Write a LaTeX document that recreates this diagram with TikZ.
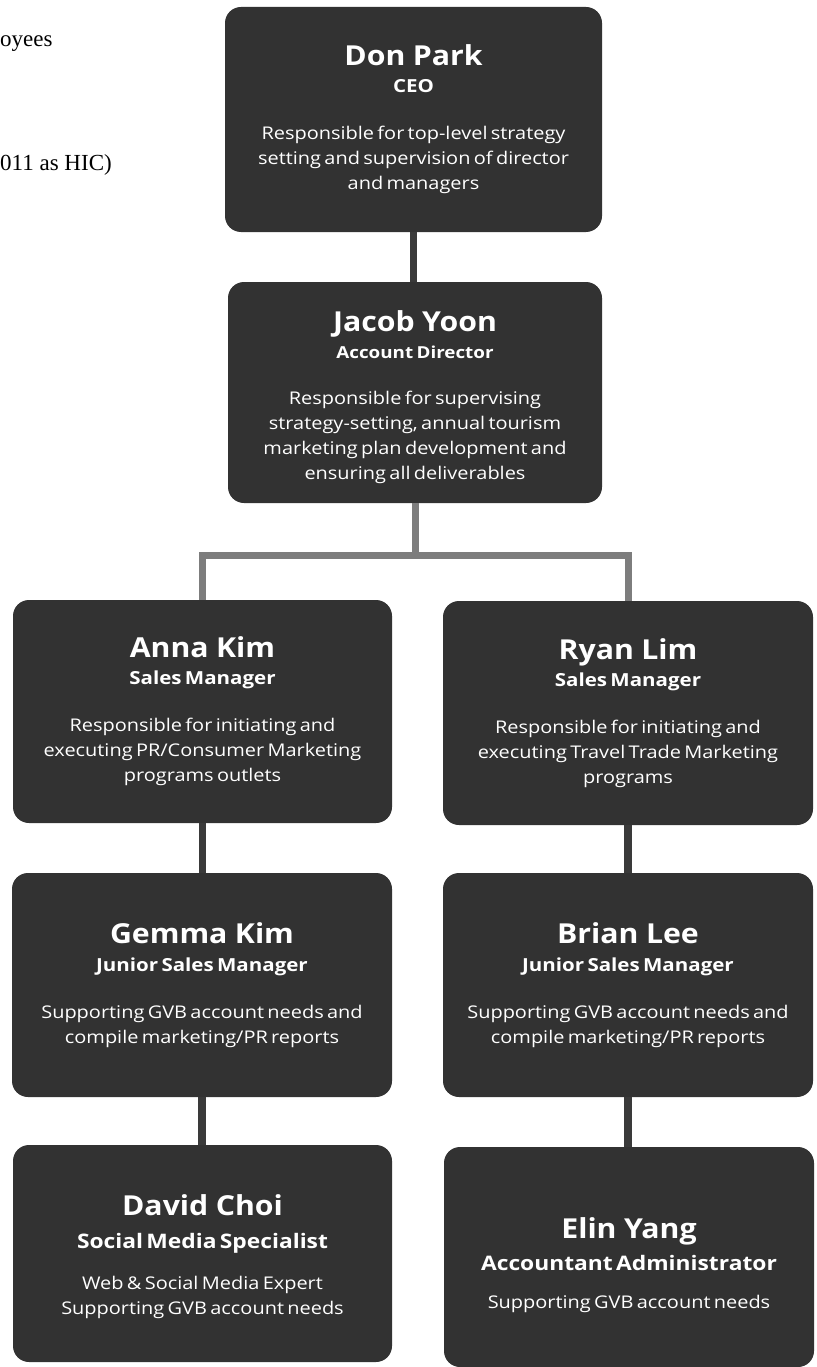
\documentclass[tikz,border=0pt]{standalone}
\usepackage{fontspec}
\setmainfont{Open Sans}
\newfontfamily\serifface{Liberation Serif}
\newfontfamily\namefont{Open Sans}[FakeStretch=1.1]
\newfontfamily\bodyfont{Open Sans}[FakeStretch=1.14]
\definecolor{boxfill}{RGB}{50,50,50}
\definecolor{linkdark}{RGB}{58,58,58}
\definecolor{linkgray}{RGB}{125,125,125}
% #1 name, #2 title, #3 title size, #4 title skip, #5 gap before body, #6 body, #7 first-line strut
\newcommand\orgtext[7]{%
  {\namefont\fontsize{27.5}{31}\selectfont\bfseries\spaceskip=0.27em\relax
   \rule{0pt}{#7}#1\par}%
  {\bodyfont\fontsize{#3}{#4}\selectfont\bfseries #2\par}%
  \vspace{#5}%
  {\bodyfont\fontsize{17.5}{25}\selectfont #6\par}}
\tikzset{
  orgbox/.style={draw=none, fill=boxfill, text=white, rounded corners=16pt,
    inner sep=0pt, align=center, text width=#1},
  orgbox/.default=370pt,
  link/.style={draw=linkdark, line width=7.5pt},
  bracketline/.style={draw=linkgray, line width=7pt},
  leftnote/.style={anchor=base west, inner sep=0pt, text=black,
    font=\serifface\fontsize{23}{23}\selectfont}
}
\begin{document}
\begin{tikzpicture}[x=1pt,y=-1pt]
\useasboundingbox (0,0) rectangle (816,1367);
\fill[white] (0,0) rectangle (816,1367);

\node[leftnote] (n1) at (0,47) {oyees};
\node[leftnote] (n2) at (0,171) {011 as HIC)};

\node[orgbox, minimum width=377pt, minimum height=225pt] (ceo) at (413.5,119.5)
 {\orgtext{Don Park}{CEO}{18}{27}{22pt}{Responsible for top-level strategy\\setting and supervision of director\\and managers}{0pt}};
\node[orgbox, minimum width=374pt, minimum height=221pt] (jacob) at (415,392.5)
 {\orgtext{Jacob Yoon}{Account Director}{16.5}{27}{21pt}{Responsible for supervising\\strategy-setting, annual tourism\\marketing plan development and\\ensuring all deliverables}{30pt}};
\node[orgbox, minimum width=379pt, minimum height=223pt] (anna) at (202.5,711.5)
 {\orgtext{Anna Kim}{Sales Manager}{18}{27}{22pt}{Responsible for initiating and\\executing PR/Consumer Marketing\\programs outlets}{0pt}};
\node[orgbox, minimum width=370pt, minimum height=224pt] (ryan) at (628,713)
 {\orgtext{Ryan Lim}{Sales Manager}{18}{27}{22pt}{Responsible for initiating and\\executing Travel Trade Marketing\\programs}{0pt}};
\node[orgbox, minimum width=380pt, minimum height=224pt] (gemma) at (202,985)
 {\orgtext{Gemma Kim}{Junior Sales Manager}{18}{28}{22pt}{Supporting GVB account needs and\\compile marketing/PR reports}{0pt}};
\node[orgbox, minimum width=370pt, minimum height=224pt] (brian) at (628,985)
 {\orgtext{Brian Lee}{Junior Sales Manager}{18}{28}{22pt}{Supporting GVB account needs and\\compile marketing/PR reports}{0pt}};
\node[orgbox, minimum width=379pt, minimum height=217pt] (david) at (202.5,1253.5)
 {\orgtext{David Choi}{Social Media Specialist}{20}{33}{16pt}{Web \& Social Media Expert\\Supporting GVB account needs}{28pt}};
\node[orgbox, minimum width=368pt, minimum height=220pt] (elin) at (629,1257)
 {\orgtext{Elin Yang}{Accountant Administrator}{20}{32}{13pt}{Supporting GVB account needs}{38pt}};

\coordinate (bar) at (415,555);
\draw[link] (ceo.south) -- (ceo.south |- jacob.north);
\draw[bracketline] (jacob.south) -- (bar);
\draw[bracketline] (anna.north) |- (bar) -| (ryan.north);
\draw[link] (anna.south) -- (anna.south |- gemma.north);
\draw[link] (gemma.south) -- (gemma.south |- david.north);
\draw[link] (ryan.south) -- (ryan.south |- brian.north);
\draw[link] (brian.south) -- (brian.south |- elin.north);
\end{tikzpicture}
\end{document}
